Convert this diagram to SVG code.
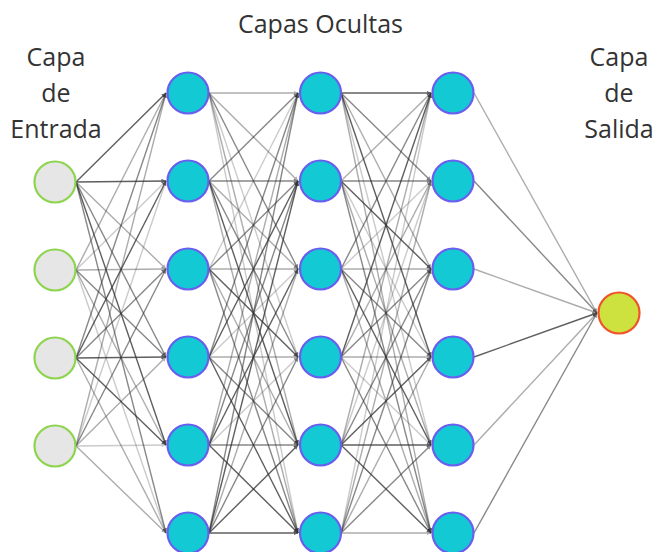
<svg xmlns="http://www.w3.org/2000/svg" width="655" height="552" viewBox="0 0 655 552">
<style>
text{font-family:"Open Sans","Noto Sans","Liberation Sans",sans-serif;font-size:25px;fill:#333;text-anchor:middle}
.e line{stroke:#333;stroke-width:1.4;marker-end:url(#ah)}
.a{opacity:.78}.b{opacity:.58}.c{opacity:.4}.d{opacity:.25}
.in{fill:#e6e6e6;stroke:#8ed44f;stroke-width:2.2}
.hid{fill:#13c9d3;stroke:#6a5ef0;stroke-width:2.2}
.out{fill:#cee23f;stroke:#f0532a;stroke-width:2.2}
</style>
<defs>
<marker id="ah" viewBox="0 0 6 6" refX="6" refY="3" markerWidth="4.5" markerHeight="4.5" markerUnits="userSpaceOnUse" orient="auto"><path d="M0,0L6,3L0,6z" fill="#333"/></marker>
</defs>
<rect width="655" height="552" fill="#fff"/>
<g id="labels">
<text x="320.5" y="33">Capas Ocultas</text>
<text x="56" y="66">Capa</text><text x="56" y="102">de</text><text x="56" y="138">Entrada</text>
<text x="619" y="66">Capa</text><text x="619" y="102">de</text><text x="619" y="138">Salida</text>
</g>
<g id="connectors" class="e">
<!-- input -> h1 -->
<line class="a" x1="76" y1="182" x2="166" y2="93"/><line class="a" x1="76" y1="182" x2="166" y2="181"/><line class="c" x1="76" y1="182" x2="166" y2="269"/><line class="b" x1="76" y1="182" x2="166" y2="357"/><line class="a" x1="76" y1="182" x2="166" y2="445"/><line class="b" x1="76" y1="182" x2="166" y2="533"/>
<line class="c" x1="76" y1="270" x2="166" y2="93"/><line class="d" x1="76" y1="270" x2="166" y2="181"/><line class="c" x1="76" y1="270" x2="166" y2="269"/><line class="b" x1="76" y1="270" x2="166" y2="357"/><line class="c" x1="76" y1="270" x2="166" y2="445"/><line class="d" x1="76" y1="270" x2="166" y2="533"/>
<line class="b" x1="76" y1="358" x2="166" y2="93"/><line class="a" x1="76" y1="358" x2="166" y2="181"/><line class="b" x1="76" y1="358" x2="166" y2="269"/><line class="a" x1="76" y1="358" x2="166" y2="357"/><line class="a" x1="76" y1="358" x2="166" y2="445"/><line class="c" x1="76" y1="358" x2="166" y2="533"/>
<line class="c" x1="76" y1="446" x2="166" y2="93"/><line class="d" x1="76" y1="446" x2="166" y2="181"/><line class="b" x1="76" y1="446" x2="166" y2="269"/><line class="c" x1="76" y1="446" x2="166" y2="357"/><line class="d" x1="76" y1="446" x2="166" y2="445"/><line class="c" x1="76" y1="446" x2="166" y2="533"/>
<!-- h1 -> h2 -->
<line class="c" x1="209" y1="93" x2="298" y2="93"/><line class="c" x1="209" y1="93" x2="298" y2="181"/><line class="b" x1="209" y1="93" x2="298" y2="269"/><line class="d" x1="209" y1="93" x2="298" y2="357"/><line class="c" x1="209" y1="93" x2="298" y2="445"/><line class="d" x1="209" y1="93" x2="298" y2="533"/>
<line class="b" x1="209" y1="181" x2="298" y2="93"/><line class="b" x1="209" y1="181" x2="298" y2="181"/><line class="c" x1="209" y1="181" x2="298" y2="269"/><line class="b" x1="209" y1="181" x2="298" y2="357"/><line class="a" x1="209" y1="181" x2="298" y2="445"/><line class="c" x1="209" y1="181" x2="298" y2="533"/>
<line class="d" x1="209" y1="269" x2="298" y2="93"/><line class="b" x1="209" y1="269" x2="298" y2="181"/><line class="c" x1="209" y1="269" x2="298" y2="269"/><line class="a" x1="209" y1="269" x2="298" y2="357"/><line class="c" x1="209" y1="269" x2="298" y2="445"/><line class="b" x1="209" y1="269" x2="298" y2="533"/>
<line class="b" x1="209" y1="357" x2="298" y2="93"/><line class="a" x1="209" y1="357" x2="298" y2="181"/><line class="d" x1="209" y1="357" x2="298" y2="269"/><line class="c" x1="209" y1="357" x2="298" y2="357"/><line class="b" x1="209" y1="357" x2="298" y2="445"/><line class="a" x1="209" y1="357" x2="298" y2="533"/>
<line class="c" x1="209" y1="445" x2="298" y2="93"/><line class="b" x1="209" y1="445" x2="298" y2="181"/><line class="a" x1="209" y1="445" x2="298" y2="269"/><line class="d" x1="209" y1="445" x2="298" y2="357"/><line class="b" x1="209" y1="445" x2="298" y2="445"/><line class="a" x1="209" y1="445" x2="298" y2="533"/>
<line class="b" x1="209" y1="533" x2="298" y2="93"/><line class="a" x1="209" y1="533" x2="298" y2="181"/><line class="c" x1="209" y1="533" x2="298" y2="269"/><line class="b" x1="209" y1="533" x2="298" y2="357"/><line class="a" x1="209" y1="533" x2="298" y2="445"/><line class="a" x1="209" y1="533" x2="298" y2="533"/>
<!-- h2 -> h3 -->
<line class="a" x1="341" y1="93" x2="431" y2="93"/><line class="b" x1="341" y1="93" x2="431" y2="181"/><line class="c" x1="341" y1="93" x2="431" y2="269"/><line class="a" x1="341" y1="93" x2="431" y2="357"/><line class="d" x1="341" y1="93" x2="431" y2="445"/><line class="c" x1="341" y1="93" x2="431" y2="533"/>
<line class="c" x1="341" y1="181" x2="431" y2="93"/><line class="b" x1="341" y1="181" x2="431" y2="181"/><line class="a" x1="341" y1="181" x2="431" y2="269"/><line class="d" x1="341" y1="181" x2="431" y2="357"/><line class="c" x1="341" y1="181" x2="431" y2="445"/><line class="b" x1="341" y1="181" x2="431" y2="533"/>
<line class="b" x1="341" y1="269" x2="431" y2="93"/><line class="d" x1="341" y1="269" x2="431" y2="181"/><line class="c" x1="341" y1="269" x2="431" y2="269"/><line class="b" x1="341" y1="269" x2="431" y2="357"/><line class="a" x1="341" y1="269" x2="431" y2="445"/><line class="c" x1="341" y1="269" x2="431" y2="533"/>
<line class="a" x1="341" y1="357" x2="431" y2="93"/><line class="c" x1="341" y1="357" x2="431" y2="181"/><line class="b" x1="341" y1="357" x2="431" y2="269"/><line class="c" x1="341" y1="357" x2="431" y2="357"/><line class="d" x1="341" y1="357" x2="431" y2="445"/><line class="b" x1="341" y1="357" x2="431" y2="533"/>
<line class="c" x1="341" y1="445" x2="431" y2="93"/><line class="d" x1="341" y1="445" x2="431" y2="181"/><line class="b" x1="341" y1="445" x2="431" y2="269"/><line class="a" x1="341" y1="445" x2="431" y2="357"/><line class="a" x1="341" y1="445" x2="431" y2="445"/><line class="a" x1="341" y1="445" x2="431" y2="533"/>
<line class="d" x1="341" y1="533" x2="431" y2="93"/><line class="c" x1="341" y1="533" x2="431" y2="181"/><line class="b" x1="341" y1="533" x2="431" y2="269"/><line class="c" x1="341" y1="533" x2="431" y2="357"/><line class="b" x1="341" y1="533" x2="431" y2="445"/><line class="c" x1="341" y1="533" x2="431" y2="533"/>
<!-- h3 -> out -->
<line class="c" x1="474" y1="93" x2="597" y2="313"/><line class="b" x1="474" y1="181" x2="597" y2="313"/><line class="c" x1="474" y1="269" x2="597" y2="313"/><line class="a" x1="474" y1="357" x2="597" y2="313"/><line class="c" x1="474" y1="445" x2="597" y2="313"/><line class="b" x1="474" y1="533" x2="597" y2="313"/>
</g>
<g id="input">
<circle id="in1" class="in" cx="55" cy="182" r="20.5"/>
<circle id="in2" class="in" cx="55" cy="270" r="20.5"/>
<circle id="in3" class="in" cx="55" cy="358" r="20.5"/>
<circle id="in4" class="in" cx="55" cy="446" r="20.5"/>
</g>
<g id="hidden1">
<circle id="h1n1" class="hid" cx="188" cy="93" r="20.5"/>
<circle id="h1n2" class="hid" cx="188" cy="181" r="20.5"/>
<circle id="h1n3" class="hid" cx="188" cy="269" r="20.5"/>
<circle id="h1n4" class="hid" cx="188" cy="357" r="20.5"/>
<circle id="h1n5" class="hid" cx="188" cy="445" r="20.5"/>
<circle id="h1n6" class="hid" cx="188" cy="533" r="20.5"/>
</g>
<g id="hidden2">
<circle id="h2n1" class="hid" cx="320.5" cy="93" r="20.5"/>
<circle id="h2n2" class="hid" cx="320.5" cy="181" r="20.5"/>
<circle id="h2n3" class="hid" cx="320.5" cy="269" r="20.5"/>
<circle id="h2n4" class="hid" cx="320.5" cy="357" r="20.5"/>
<circle id="h2n5" class="hid" cx="320.5" cy="445" r="20.5"/>
<circle id="h2n6" class="hid" cx="320.5" cy="533" r="20.5"/>
</g>
<g id="hidden3">
<circle id="h3n1" class="hid" cx="453" cy="93" r="20.5"/>
<circle id="h3n2" class="hid" cx="453" cy="181" r="20.5"/>
<circle id="h3n3" class="hid" cx="453" cy="269" r="20.5"/>
<circle id="h3n4" class="hid" cx="453" cy="357" r="20.5"/>
<circle id="h3n5" class="hid" cx="453" cy="445" r="20.5"/>
<circle id="h3n6" class="hid" cx="453" cy="533" r="20.5"/>
</g>
<g id="output">
<circle id="out1" class="out" cx="619" cy="313" r="20.5"/>
</g>
</svg>
